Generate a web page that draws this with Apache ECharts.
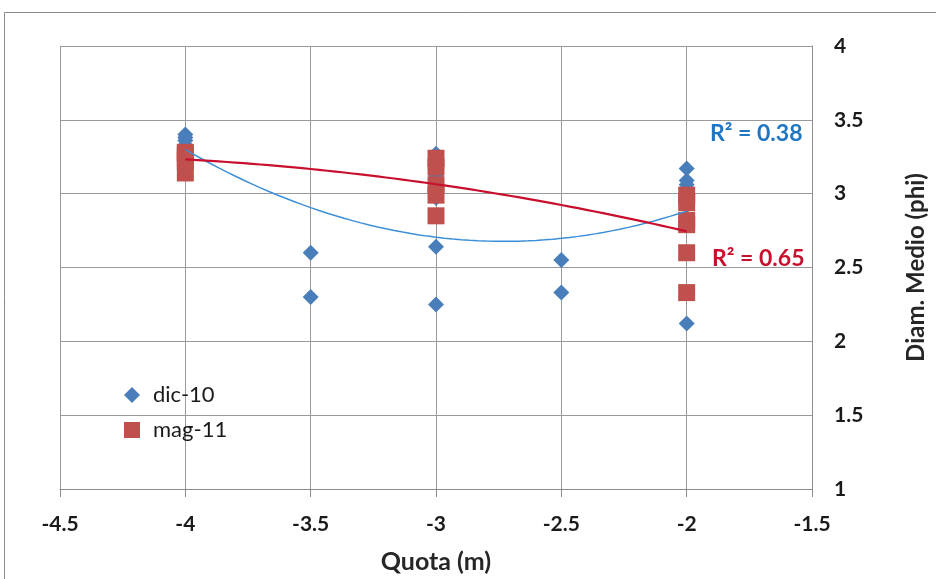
<!DOCTYPE html>
<html><head><meta charset="utf-8">
<script src="https://cdn.jsdelivr.net/npm/echarts@6/dist/echarts.min.js"></script>
<style>html,body{margin:0;padding:0;background:#fff}#c{width:936px;height:579px}</style>
</head><body><div id="c"></div>
<script>
// dic-10 samples: [quota, diam]
const dic10 = [
  [-4, 3.40], [-4, 3.38], [-4, 3.36], [-4, 3.33],
  [-3.5, 2.60], [-3.5, 2.30],
  [-3, 3.27], [-3, 3.12], [-3, 3.05], [-3, 2.97], [-3, 2.64], [-3, 2.25],
  [-2.5, 2.55], [-2.5, 2.33],
  [-2, 3.17], [-2, 3.09], [-2, 3.06], [-2, 3.01], [-2, 2.92], [-2, 2.12]
];
// mag-11 samples
const mag11 = [
  [-4, 3.28], [-4, 3.27], [-4, 3.25], [-4, 3.22], [-4, 3.14],
  [-3, 3.24], [-3, 3.18], [-3, 3.06], [-3, 2.99], [-3, 2.85],
  [-2, 2.99], [-2, 2.94], [-2, 2.82], [-2, 2.79], [-2, 2.60], [-2, 2.33]
];
const seriesNames = ['dic-10', 'mag-11'];
const r2Labels = ['R\u00B2 = 0.38', 'R\u00B2 = 0.65'];
const xTicks = [-4.5, -4, -3.5, -3, -2.5, -2, -1.5];
const yTicks = [1, 1.5, 2, 2.5, 3, 3.5, 4];

// 2nd order polynomial least-squares trendline (as in the spreadsheet)
function polyFit2(pts) {
  let S = [0,0,0,0,0], T = [0,0,0];
  pts.forEach(([x,y]) => {
    let p = 1;
    for (let k=0;k<5;k++){ S[k]+=p; if(k<3) T[k]+=p*y; p*=x; }
  });
  const M = [[S[0],S[1],S[2],T[0]],[S[1],S[2],S[3],T[1]],[S[2],S[3],S[4],T[2]]];
  for (let i=0;i<3;i++){
    for (let j=i+1;j<3;j++){
      const f = M[j][i]/M[i][i];
      for (let k=i;k<4;k++) M[j][k]-=f*M[i][k];
    }
  }
  const c=[0,0,0];
  for (let i=2;i>=0;i--){
    let s=M[i][3];
    for (let k=i+1;k<3;k++) s-=M[i][k]*c[k];
    c[i]=s/M[i][i];
  }
  return c;
}
function trend(pts) {
  const c = polyFit2(pts);
  const xs = pts.map(p=>p[0]);
  const x0 = Math.min(...xs), x1 = Math.max(...xs);
  const out = [];
  const n = 60;
  for (let i=0;i<=n;i++){
    const x = x0 + (x1-x0)*i/n;
    out.push([x, c[0]+c[1]*x+c[2]*x*x]);
  }
  return out;
}

const FONT = 'Lato, "Open Sans", sans-serif';
const chart = echarts.init(document.getElementById('c'), null, {renderer:'canvas'});
chart.setOption({
  animation: false,
  backgroundColor: '#fff',
  grid: {left: 60, right: 117, top: 46, bottom: 86, containLabel: false},
  xAxis: {
    type: 'value', min: -4.5, max: -1.5, interval: 0.5,
    name: 'Quota (m)', nameLocation: 'middle', nameGap: 60,
    nameTextStyle: {fontFamily: FONT, fontWeight: 'bold', fontSize: 25, color: '#262626'},
    axisLine: {show: true, lineStyle: {color: '#8c8c8c'}},
    axisTick: {show: true, length: 8, inside: false, lineStyle: {color: '#8c8c8c'}},
    axisLabel: {fontFamily: FONT, fontWeight: 'bold', fontSize: 21, color: '#1a1a1a', margin: 25,
      formatter: v => String(v)},
    splitLine: {show: true, lineStyle: {color: '#9a9a9a', width: 1}}
  },
  yAxis: {
    type: 'value', position: 'right', min: 1, max: 4, interval: 0.5,
    name: 'Diam. Medio (phi)', nameLocation: 'middle', nameGap: 92, nameRotate: 90,
    nameTextStyle: {fontFamily: FONT, fontWeight: 'bold', fontSize: 24, color: '#262626'},
    axisLine: {show: true, lineStyle: {color: '#8c8c8c'}},
    axisTick: {show: false},
    axisLabel: {fontFamily: FONT, fontWeight: 'bold', fontSize: 21, color: '#1a1a1a', margin: 22,
      formatter: v => String(v)},
    splitLine: {show: true, lineStyle: {color: '#9a9a9a', width: 1}}
  },
  legend: {
    data: [{name: seriesNames[0], icon: 'diamond'}, {name: seriesNames[1], icon: 'rect'}],
    orient: 'vertical', left: 119, top: 379, itemWidth: 16, itemHeight: 16, itemGap: 13,
    textStyle: {fontFamily: FONT, fontSize: 22, color: '#1a1a1a', padding: [0, 0, 0, 8]}
  },
  series: [
    {name: seriesNames[0], type: 'scatter', data: dic10, symbol: 'diamond', symbolSize: 16,
      itemStyle: {color: '#4a7ebb', opacity: 1}, z: 3},
    {name: seriesNames[1], type: 'scatter', data: mag11, symbol: 'rect', symbolSize: 17,
      itemStyle: {color: '#c0504d', opacity: 1}, z: 4},
    {name: 'trend-dic', type: 'line', data: trend(dic10), showSymbol: false, smooth: false,
      lineStyle: {color: '#3c8fd6', width: 1.5}, z: 5, silent: true},
    {name: 'trend-mag', type: 'line', data: trend(mag11), showSymbol: false, smooth: false,
      lineStyle: {color: '#c8102e', width: 2.2}, z: 6, silent: true}
  ],
  graphic: [
    {type: 'rect', shape: {x: 4.5, y: 12.5, width: 940, height: 580},
      style: {fill: null, stroke: '#8a8a8a', lineWidth: 1}, silent: true},
    {type: 'text', left: 710, top: 122,
      style: {text: r2Labels[0], fontFamily: FONT, fontWeight: 'bold', fontSize: 23, fill: '#1f77c4'}},
    {type: 'text', left: 712, top: 247,
      style: {text: r2Labels[1], fontFamily: FONT, fontWeight: 'bold', fontSize: 23, fill: '#c8102e'}}
  ]
});
</script></body></html>
